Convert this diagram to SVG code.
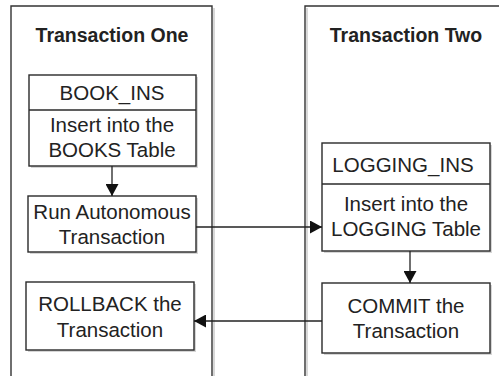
<svg xmlns="http://www.w3.org/2000/svg" width="499" height="376" viewBox="0 0 499 376">
<style>
.panel{fill:none;stroke:#333;stroke-width:1.4}
.pshadow{fill:none;stroke:#d8d8d8;stroke-width:2}
.box{fill:#fff;stroke:#2a2a2a;stroke-width:1.4}
.shadow{fill:#d6d6d6}
.title{font-family:"Liberation Sans",Arial,sans-serif;font-weight:bold;font-size:19.5px;fill:#222;text-anchor:middle}
.t{font-family:"Liberation Sans",Arial,sans-serif;font-size:20.5px;fill:#222;text-anchor:middle}
.conn{stroke:#222;stroke-width:1.3;fill:none}
</style>
<defs>
<marker id="ah" markerWidth="13" markerHeight="13" refX="12" refY="6.5" orient="auto" markerUnits="userSpaceOnUse">
<path d="M0,0 L12,6.5 L0,13 Z" fill="#111"/>
</marker>
</defs>
<rect width="499" height="376" fill="#fff"/>
<g id="panel-one">
<line x1="214" y1="8" x2="214" y2="376" class="pshadow"/>
<path d="M11,376 V6 H212 V376" class="panel"/>
<text x="112" y="42" class="title">Transaction One</text>
</g>
<g id="panel-two">
<line x1="307" y1="8" x2="307" y2="376" class="pshadow"/>
<path d="M305,376 V6 H499" class="panel"/>
<text x="406" y="42" class="title">Transaction Two</text>
</g>
<g id="book-ins">
<rect x="31" y="77" width="167" height="91" class="shadow"/>
<rect x="29" y="75" width="167" height="91" class="box"/>
<line x1="29" y1="110" x2="196" y2="110" class="box"/>
<text x="112" y="100" class="t">BOOK_INS</text>
<text x="112" y="132" class="t">Insert into the</text>
<text x="112" y="157" class="t">BOOKS Table</text>
</g>
<g id="run-autonomous">
<rect x="30" y="198" width="168" height="56" class="shadow"/>
<rect x="28" y="196" width="168" height="56" class="box"/>
<text x="112" y="219" class="t">Run Autonomous</text>
<text x="112" y="244" class="t">Transaction</text>
</g>
<g id="rollback">
<rect x="28" y="284" width="168" height="68" class="shadow"/>
<rect x="26" y="282" width="168" height="68" class="box"/>
<text x="110" y="311" class="t">ROLLBACK the</text>
<text x="110" y="337" class="t">Transaction</text>
</g>
<g id="logging-ins">
<rect x="324" y="145" width="168" height="108" class="shadow"/>
<rect x="322" y="143" width="168" height="108" class="box"/>
<line x1="322" y1="184" x2="490" y2="184" class="box"/>
<text x="403" y="172" class="t">LOGGING_INS</text>
<text x="406" y="211" class="t">Insert into the</text>
<text x="406" y="236" class="t">LOGGING Table</text>
</g>
<g id="commit">
<rect x="324" y="285" width="168" height="70" class="shadow"/>
<rect x="322" y="283" width="168" height="70" class="box"/>
<text x="406" y="313" class="t">COMMIT the</text>
<text x="406" y="338" class="t">Transaction</text>
</g>
<g id="connectors">
<line x1="112" y1="166" x2="112" y2="196" class="conn" marker-end="url(#ah)"/>
<line x1="196" y1="227" x2="322" y2="227" class="conn" marker-end="url(#ah)"/>
<line x1="410" y1="251" x2="410" y2="283" class="conn" marker-end="url(#ah)"/>
<line x1="322" y1="321" x2="194" y2="321" class="conn" marker-end="url(#ah)"/>
</g>
</svg>
